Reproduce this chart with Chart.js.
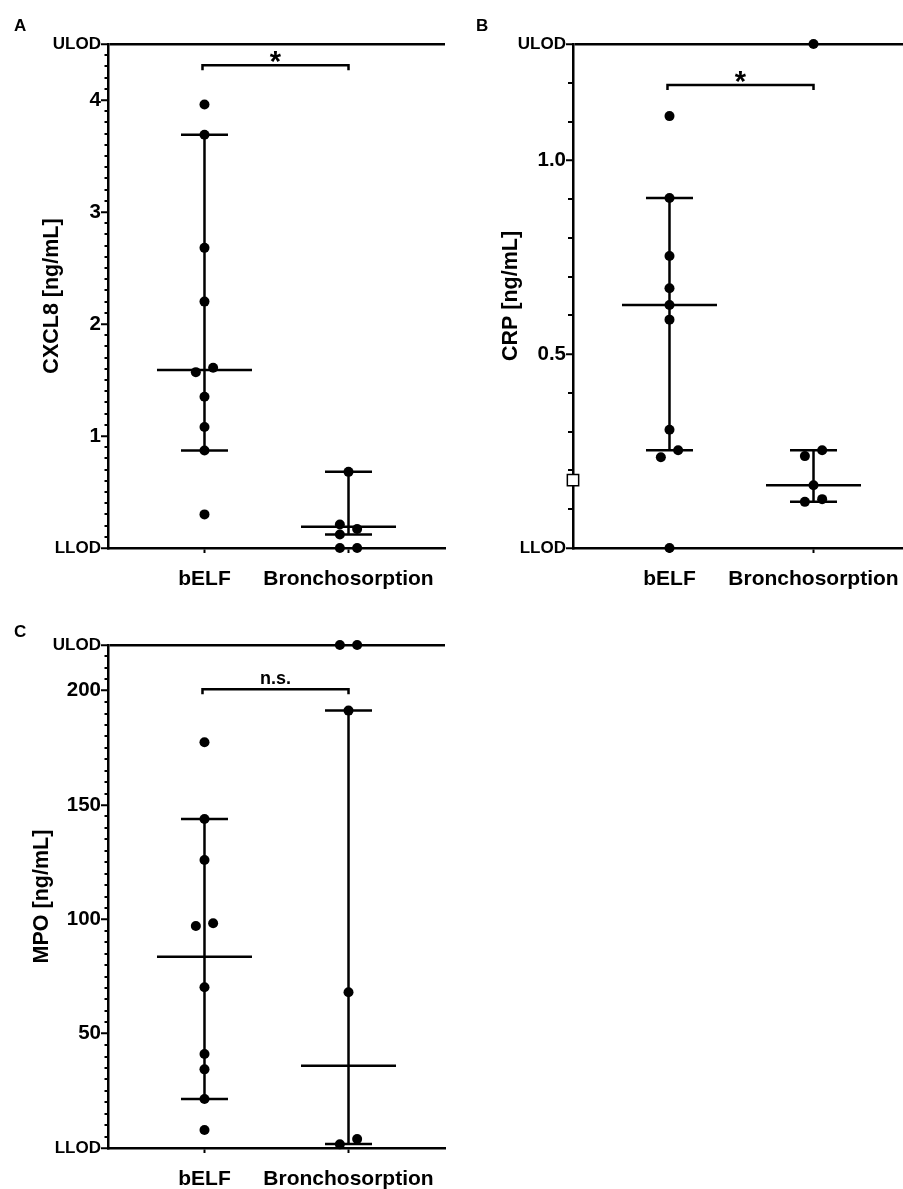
<!DOCTYPE html>
<html>
<head>
<meta charset="utf-8">
<script src="https://cdn.jsdelivr.net/npm/chart.js@4"></script>
<style>
  html, body { margin: 0; padding: 0; background: #fff; }
  body { position: relative; width: 903px; height: 1189px; overflow: hidden; }
  canvas { position: absolute; }
  #chartA { left: 0; top: 0; }
  #chartB { left: 465px; top: 0; }
  #chartC { left: 0; top: 600px; }
</style>
</head>
<body>
<canvas id="chartA" width="460" height="600"></canvas>
<canvas id="chartB" width="460" height="600"></canvas>
<canvas id="chartC" width="460" height="589"></canvas>
<script>
const groups = ["bELF", "Bronchosorption"];

// A - CXCL8 [ng/mL]
const cxclBelf = [3.96, 3.69, 2.68, 2.20, 1.61, 1.57, 1.35, 1.08, 0.87, 0.30];
const cxclBroncho = [0.68, 0.21, 0.17, 0.12, 0, 0];
const cxclMedian = [1.59, 0.19];
const cxclLow = [0.87, 0.12];
const cxclHigh = [3.69, 0.68];
const cxclTicks = [0, 1, 2, 3, 4, 4.5];
const cxclTickLabels = ["LLOD", "1", "2", "3", "4", "ULOD"];

// B - CRP [ng/mL]
const crpBelf = [1.114, 0.903, 0.753, 0.670, 0.627, 0.589, 0.305, 0.252, 0.234, 0];
const crpBroncho = [1.3, 0.252, 0.237, 0.162, 0.126, 0.119];
const crpMedian = [0.627, 0.162];
const crpLow = [0.252, 0.119];
const crpHigh = [0.903, 0.252];
const crpTicks = [0, 0.5, 1.0, 1.3];
const crpTickLabels = ["LLOD", "0.5", "1.0", "ULOD"];
const crpMarker = [0.175];

// C - MPO [ng/mL]
const mpoBelf = [177.5, 143.9, 126.0, 98.3, 97.1, 70.3, 41.1, 34.4, 21.4, 7.9];
const mpoBroncho = [220, 220, 191.3, 68.1, 3.9, 1.6];
const mpoMedian = [83.7, 36.0];
const mpoLow = [21.4, 1.75];
const mpoHigh = [143.9, 191.3];
const mpoTicks = [0, 50, 100, 150, 200, 220];
const mpoTickLabels = ["LLOD", "50", "100", "150", "200", "ULOD"];

const sigLabels = ["*", "*", "n.s."];
const sigLevels = [4.31, 1.194, 200.7];

const FONT = "'Liberation Sans', Arial, sans-serif";
Chart.defaults.font.family = FONT;
Chart.defaults.font.weight = "bold";
Chart.defaults.color = "#000";

// spread overlapping dots sideways, like a scatter column
function column(values, center, range) {
  const order = values.map((v, i) => i).sort((a, b) => values[a] - values[b]);
  const xs = values.map(() => center);
  let prev = null, side = 0;
  order.forEach(i => {
    if (prev !== null && values[i] - values[prev] < 0.02 * range) {
      if (side === 0) { xs[prev] = center - 0.06; side = -1; }
      side = -side;
      xs[i] = center + side * 0.06;
    } else {
      side = 0;
    }
    prev = i;
  });
  return values.map((v, i) => ({ x: xs[i], y: v }));
}

const extras = {
  id: "extras",
  beforeDatasetsDraw(chart, args, o) {
    const { ctx } = chart;
    const x = chart.scales.x, y = chart.scales.y;
    ctx.save();
    ctx.strokeStyle = "#000";
    ctx.lineWidth = 2.5;
    o.median.forEach((m, i) => {
      const px = x.getPixelForValue(i + 1);
      const yl = y.getPixelForValue(o.low[i]);
      const yh = y.getPixelForValue(o.high[i]);
      const ym = y.getPixelForValue(m);
      ctx.beginPath();
      ctx.moveTo(px, yl); ctx.lineTo(px, yh);
      ctx.moveTo(px - 23.5, yl); ctx.lineTo(px + 23.5, yl);
      ctx.moveTo(px - 23.5, yh); ctx.lineTo(px + 23.5, yh);
      ctx.moveTo(px - 47.5, ym); ctx.lineTo(px + 47.5, ym);
      ctx.stroke();
    });
    ctx.restore();
  },
  afterDraw(chart, args, o) {
    const { ctx, chartArea } = chart;
    const x = chart.scales.x, y = chart.scales.y;
    ctx.save();
    ctx.strokeStyle = "#000";
    ctx.fillStyle = "#000";
    // minor ticks
    ctx.lineWidth = 2;
    const n = Math.round((y.max - y.min) / o.minorStep);
    for (let k = 1; k < n; k++) {
      const v = y.min + k * o.minorStep;
      if (o.majors.some(t => Math.abs(t - v) < o.minorStep / 10)) continue;
      const py = Math.round(y.getPixelForValue(v));
      ctx.beginPath();
      ctx.moveTo(chartArea.left - o.minorLen, py);
      ctx.lineTo(chartArea.left, py);
      ctx.stroke();
    }
    // significance bracket
    const by = y.getPixelForValue(o.bracket);
    const x1 = x.getPixelForValue(1) - 2, x2 = x.getPixelForValue(2);
    ctx.lineWidth = 2.5;
    ctx.beginPath();
    ctx.moveTo(x1, by + 5); ctx.lineTo(x1, by); ctx.lineTo(x2, by); ctx.lineTo(x2, by + 5);
    ctx.stroke();
    ctx.textAlign = "center";
    ctx.textBaseline = "alphabetic";
    if (o.sig === "*") {
      ctx.font = "bold 29px " + FONT;
      ctx.fillText(o.sig, (x1 + x2) / 2, by + 6);
    } else {
      ctx.font = "bold 18px " + FONT;
      ctx.fillText(o.sig, (x1 + x2) / 2, by - 5);
    }
    // panel letter
    ctx.textAlign = "left";
    ctx.font = "bold 17px " + FONT;
    ctx.fillText(o.letter, o.letterX, o.letterY);
    ctx.restore();
  }
};

function panel(id, p) {
  const canvas = document.getElementById(id);
  const llod = p.ticks[0], ulod = p.ticks[p.ticks.length - 1];
  const range = ulod - llod;
  const datasets = [
    { data: column(p.belf, 1, range) },
    { data: column(p.broncho, 2, range) }
  ].map(d => Object.assign(d, {
    pointRadius: 5, pointHoverRadius: 5, pointBackgroundColor: "#000",
    pointBorderWidth: 0, showLine: false, clip: false
  }));
  if (p.marker) {
    datasets.push({
      data: p.marker.map(v => ({ x: 0.33, y: v })),
      pointStyle: "rect", pointRadius: 8, pointBackgroundColor: "#fff",
      pointBorderColor: "#000", pointBorderWidth: 1.5, showLine: false, clip: false
    });
  }
  return new Chart(canvas, {
    type: "scatter",
    data: { datasets: datasets },
    options: {
      responsive: false,
      animation: false,
      devicePixelRatio: 1,
      events: [],
      layout: { padding: { top: p.top, right: 15, left: 0, bottom: 0 } },
      plugins: {
        legend: { display: false },
        tooltip: { enabled: false },
        extras: {
          median: p.median, low: p.low, high: p.high,
          majors: p.ticks, minorStep: p.minorStep, minorLen: p.minorLen,
          bracket: p.bracket, sig: p.sig,
          letter: p.letter, letterX: p.letterX, letterY: p.letterY
        }
      },
      scales: {
        x: {
          type: "linear",
          min: 0.33, max: 2.67,
          afterFit: s => { s.height = canvas.height - 548; },
          afterBuildTicks: s => { s.ticks = [{ value: 1 }, { value: 2 }]; },
          ticks: {
            callback: v => groups[v - 1],
            font: { size: 21, weight: "bold" },
            padding: 14,
            maxRotation: 0
          },
          grid: {
            drawOnChartArea: false,
            tickLength: 5,
            tickColor: "#000",
            tickWidth: 2
          },
          border: { color: "#000", width: 2.5 }
        },
        y: {
          type: "linear",
          min: llod, max: ulod,
          afterFit: s => { s.width = 108; },
          afterBuildTicks: s => { s.ticks = p.ticks.map(v => ({ value: v })); },
          ticks: {
            callback: (v, i) => p.labels[i],
            font: c => ({ size: (c.tick && (c.tick.value === llod || c.tick.value === ulod)) ? 17 : 20.5, weight: "bold" }),
            padding: 0
          },
          grid: {
            color: c => (c.tick && c.tick.value === ulod) ? "#000" : "rgba(0,0,0,0)",
            lineWidth: 2.5,
            tickLength: 7,
            tickColor: "#000",
            tickWidth: 2
          },
          border: { color: "#000", width: 2.5 },
          title: {
            display: true,
            text: p.title,
            font: { size: 21.5, weight: "bold", lineHeight: 1 },
            padding: { top: p.titlePad, bottom: 0 }
          }
        }
      }
    },
    plugins: [extras]
  });
}

panel("chartA", {
  belf: cxclBelf, broncho: cxclBroncho, median: cxclMedian, low: cxclLow, high: cxclHigh,
  ticks: cxclTicks, labels: cxclTickLabels, minorStep: 0.1, minorLen: 3.5,
  title: "CXCL8 [ng/mL]", titlePad: 41, top: 44,
  bracket: sigLevels[0], sig: sigLabels[0], letter: "A", letterX: 14, letterY: 30.7
});

panel("chartB", {
  belf: crpBelf, broncho: crpBroncho, median: crpMedian, low: crpLow, high: crpHigh,
  ticks: crpTicks, labels: crpTickLabels, minorStep: 0.1, minorLen: 5, marker: crpMarker,
  title: "CRP [ng/mL]", titlePad: 35.5, top: 44,
  bracket: sigLevels[1], sig: sigLabels[1], letter: "B", letterX: 11, letterY: 30.7
});

panel("chartC", {
  belf: mpoBelf, broncho: mpoBroncho, median: mpoMedian, low: mpoLow, high: mpoHigh,
  ticks: mpoTicks, labels: mpoTickLabels, minorStep: 5, minorLen: 3.5,
  title: "MPO [ng/mL]", titlePad: 31.5, top: 45,
  bracket: sigLevels[2], sig: sigLabels[2], letter: "C", letterX: 14, letterY: 36.7
});
</script>
</body>
</html>
